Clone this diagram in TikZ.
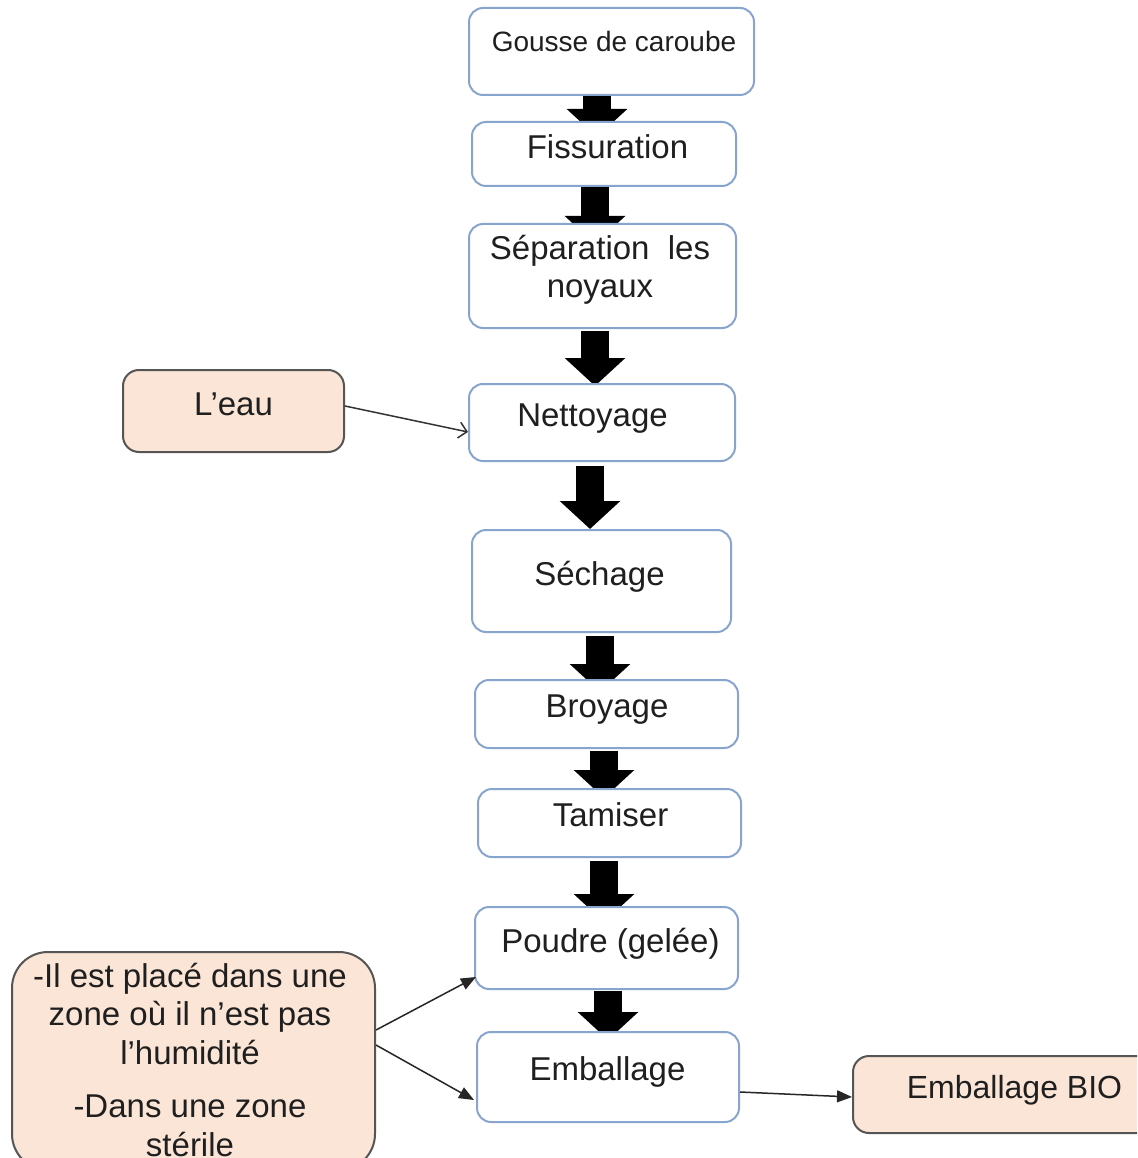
\documentclass[tikz,border=0pt]{standalone}
\usepackage{fontspec}
\setmainfont{Liberation Sans}
\usetikzlibrary{arrows.meta,calc}
\pgfdeclarelayer{background}
\pgfdeclarelayer{canvas}
\pgfsetlayers{canvas,background,main}

\definecolor{stepedge}{RGB}{135,165,205}
\definecolor{sidefill}{RGB}{251,229,214}
\definecolor{sideedge}{RGB}{85,85,85}

\tikzset{
  stepbox/.style={draw=stepedge, line width=2pt, fill=white, rounded corners=14pt, inner sep=0pt},
  sidebox/.style={draw=sideedge, line width=2pt, fill=sidefill, rounded corners=16pt, inner sep=0pt},
  steptext/.style={font=\fontsize{33}{38.5}\selectfont, text=black!88, text height=24pt, text depth=7pt, inner sep=0pt},
  multitext/.style={font=\fontsize{33}{38.5}\selectfont, text=black!88, align=center, inner sep=0pt},
  flowarrow/.style={line width=28pt, black, -{Triangle[length=28pt,width=59pt]}},
  thinlink/.style={line width=1.5pt, draw=black!85, -{Triangle[length=15pt,width=12pt]}},
  openlink/.style={line width=1.5pt, draw=black!80, -{Straight Barb[length=8pt,width=16pt]}},
}

\begin{document}
\begin{tikzpicture}[x=1pt, y=-1pt]
  \clip (0,0) rectangle (1137,1158);
  \begin{pgfonlayer}{canvas}
    \fill[white] (0,0) rectangle (1137,1158);
  \end{pgfonlayer}

  % main process steps
  \node[stepbox, minimum width=285pt, minimum height=87pt,
        label={[steptext, font=\fontsize{28}{32}\selectfont, xshift=2.5pt, yshift=8pt]center:Gousse de caroube}]
        (n1) at (611.5,51.5) {};
  \node[stepbox, minimum width=264pt, minimum height=64pt,
        label={[steptext, xshift=3.5pt, yshift=4pt]center:Fissuration}]
        (n2) at (604,154) {};
  \node[stepbox, minimum width=267pt, minimum height=104pt,
        label={[multitext, xshift=-2.5pt, yshift=6pt]center:Séparation\ \ les\\noyaux}]
        (n3) at (602.5,276) {};
  \node[stepbox, minimum width=266pt, minimum height=77pt,
        label={[steptext, xshift=-9.5pt, yshift=5pt]center:Nettoyage}]
        (n4) at (602,422.5) {};
  \node[stepbox, minimum width=259pt, minimum height=102pt,
        label={[steptext, xshift=-2pt, yshift=3.7pt]center:Séchage}]
        (n5) at (601.5,581) {};
  \node[stepbox, minimum width=263pt, minimum height=68pt,
        label={[steptext, xshift=0.5pt, yshift=4.7pt]center:Broyage}]
        (n6) at (606.5,714) {};
  \node[stepbox, minimum width=263pt, minimum height=68pt,
        label={[steptext, xshift=1pt, yshift=4.7pt]center:Tamiser}]
        (n7) at (609.5,823) {};
  \node[stepbox, minimum width=263pt, minimum height=82pt,
        label={[steptext, xshift=4pt, yshift=3.7pt]center:Poudre (gelée)}]
        (n8) at (606.5,948) {};
  \node[stepbox, minimum width=262pt, minimum height=90pt,
        label={[steptext, xshift=-0.5pt, yshift=4.7pt]center:Emballage}]
        (n9) at (608,1077) {};

  % side inputs and outputs
  \node[sidebox, minimum width=221pt, minimum height=82pt,
        label={[steptext, yshift=3.7pt]center:L’eau}]
        (n10) at (233.5,411) {};
  \node[sidebox, rounded corners=36pt, minimum width=363pt, minimum height=218pt,
        label={[multitext, xshift=-3.5pt, yshift=1.5pt]center:-Il est placé dans une\\zone où il n’est pas\\l’humidité\\[15pt]-Dans une zone\\stérile}]
        (n11) at (193.5,1061) {};
  \node[sidebox, minimum width=323pt, minimum height=77pt,
        label={[steptext, font=\fontsize{32}{36}\selectfont, yshift=4.2pt]center:Emballage BIO}]
        (n12) at (1014.5,1094.5) {};

  % block arrows between the steps, drawn under the boxes
  \begin{pgfonlayer}{background}
    \coordinate (a1) at ($(n1.south)+(-14.5,0)$);
    \coordinate (a2) at ($(n2.south)+(-9,0)$);
    \coordinate (a3) at ($(n3.south)+(-7.5,0)$);
    \coordinate (a4) at ($(n4.south)+(-12,0)$);
    \coordinate (a5) at ($(n5.south)+(-1.5,0)$);
    \coordinate (a6) at ($(n6.south)+(-2.5,0)$);
    \coordinate (a7) at ($(n7.south)+(-5.5,0)$);
    \coordinate (a8) at ($(n8.south)+(1.5,0)$);
    \draw[flowarrow, shorten >=-16pt] (a1) -- (a1 |- n2.north);
    \draw[flowarrow, shorten >=-21pt] (a2) -- (a2 |- n3.north);
    \draw[flowarrow, shorten <=2pt, shorten >=-3pt] (a3) -- (a3 |- n4.north);
    \draw[flowarrow, shorten <=4pt] (a4) -- (a4 |- n5.north);
    \draw[flowarrow, shorten <=3pt, shorten >=-13pt] (a5) -- (a5 |- n6.north);
    \draw[flowarrow, shorten <=2pt, shorten >=-10pt] (a6) -- (a6 |- n7.north);
    \draw[flowarrow, shorten <=3pt, shorten >=-16pt] (a7) -- (a7 |- n8.north);
    \draw[flowarrow, shorten <=1pt, shorten >=-9pt] (a8) -- (a8 |- n9.north);
  \end{pgfonlayer}

  % thin connectors
  \draw[openlink] ([yshift=5pt]n10.east) -- ([yshift=-9.5pt]n4.west);
  \draw[thinlink] ([yshift=31pt]n11.east) -- ([xshift=2pt,yshift=-29pt]n8.west);
  \draw[thinlink] ([yshift=16pt]n11.east) -- ([xshift=-2pt,yshift=-23pt]n9.west);
  \draw[thinlink] ([yshift=-15pt]n9.east) -- ([yshift=-2.5pt]n12.west);
\end{tikzpicture}
\end{document}
